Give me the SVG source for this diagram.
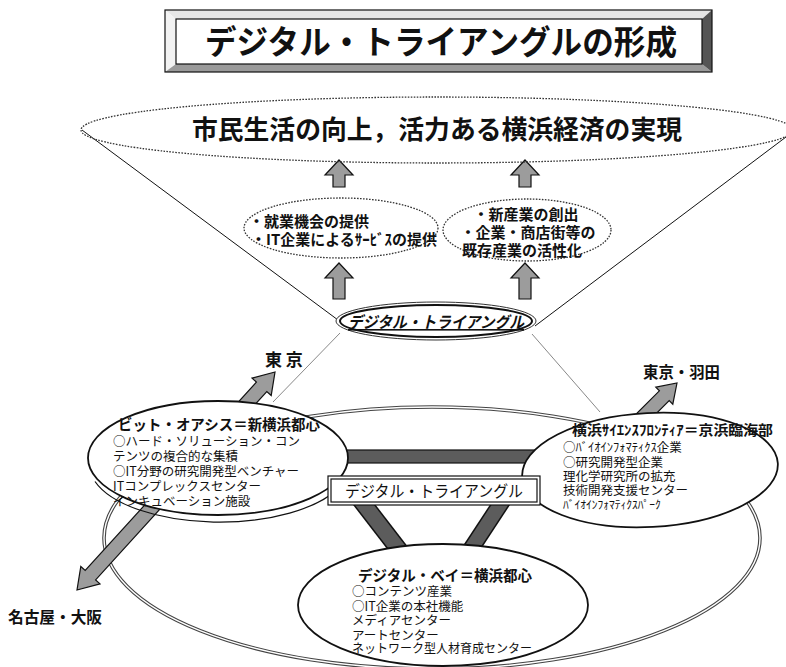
<svg xmlns="http://www.w3.org/2000/svg" width="786" height="667" viewBox="0 0 786 667">
<style>
.jp{font-family:"Noto Sans CJK JP","Noto Sans CJK SC",sans-serif;fill:#111}
.b{font-weight:bold}
.dot{fill:none;stroke:#333;stroke-width:1.3;stroke-dasharray:1.6 1.4}
.thin{fill:none;stroke:#111;stroke-width:1}
.arr{fill:#9c9c9c;stroke:#111;stroke-width:1.2;stroke-linejoin:miter}
.node{fill:#fff;stroke:#111;stroke-width:1.8}
.bar{fill:#5c5c5c;stroke:#111;stroke-width:1.2}
.t13{font-size:12.5px}
</style>
<rect width="786" height="667" fill="#fff"/>

<g id="title">
<polygon points="165,10 712,10 702,19 176,19" fill="#e6e6e6"/>
<polygon points="165,10 176,19 176,64 165,72" fill="#f2f2f2"/>
<polygon points="165,72 176,64 702,64 712,72" fill="#9a9a9a"/>
<polygon points="712,10 702,19 702,64 712,72" fill="#555"/>
<rect x="165" y="10" width="547" height="62" fill="none" stroke="#111" stroke-width="1.2"/>
<rect x="176" y="19" width="526" height="45" fill="#fff" stroke="#111" stroke-width="1.2"/>
<text class="jp b" x="441" y="54" font-size="33" text-anchor="middle" textLength="472" lengthAdjust="spacingAndGlyphs">デジタル・トライアングルの形成</text>
</g>

<g id="bg-ring">
<ellipse cx="432" cy="538" rx="328" ry="131" fill="none" stroke="#444" stroke-width="3.6"/>
<ellipse cx="432" cy="538" rx="328" ry="131" fill="none" stroke="#fff" stroke-width="1.4"/>
</g>

<g id="connectors">
<line class="thin" x1="82" y1="130" x2="338" y2="320"/>
<line class="thin" x1="786" y1="137" x2="535" y2="326"/>
<line x1="340" y1="333" x2="273" y2="402" stroke="#555" stroke-width="0.7"/>
<line x1="532" y1="334" x2="600" y2="412" stroke="#555" stroke-width="0.7"/>
<polygon class="arr" points="77,590 100,583.9 95.6,579.9 266.8,391.5 271.2,395.5 275,372 252,378.1 256.4,382.1 85.2,570.5 80.8,566.5"/>
<polygon class="arr" points="677,383 672.8,404.2 669.2,400.6 634.9,434.9 625.1,425.1 659.4,390.8 655.8,387.2"/>
<polygon class="arr" points="339,160 353,175 345,175 345,187 333,187 333,175 325,175"/>
<polygon class="arr" points="525,160 539,175 531,175 531,187 519,187 519,175 511,175"/>
<polygon class="arr" points="339,263 353,278 345,278 345,299 333,299 333,278 325,278"/>
<polygon class="arr" points="525,263 539,278 531,278 531,299 519,299 519,278 511,278"/>
<line x1="349" y1="485" x2="430" y2="590" stroke="#111" stroke-width="18"/>
<line x1="349" y1="485" x2="430" y2="590" stroke="#5c5c5c" stroke-width="15"/>
<line x1="513" y1="485" x2="444" y2="590" stroke="#111" stroke-width="17"/>
<line x1="513" y1="485" x2="444" y2="590" stroke="#5c5c5c" stroke-width="14"/>
<rect class="bar" x="335" y="450" width="210" height="13"/>
</g>

<g id="goal">
<ellipse class="dot" cx="437" cy="130" rx="356" ry="33"/>
<text class="jp b" x="437" y="139" font-size="26" text-anchor="middle" textLength="490" lengthAdjust="spacingAndGlyphs">市民生活の向上，活力ある横浜経済の実現</text>
</g>

<g id="effect-left">
<ellipse class="dot" cx="341" cy="228" rx="97" ry="30"/>
<text class="jp b" x="249" y="227" font-size="15">・就業機会の提供</text>
<text class="jp b" x="251" y="245" font-size="15" textLength="186" lengthAdjust="spacingAndGlyphs">・IT企業によるｻｰﾋﾞｽの提供</text>
</g>

<g id="effect-right">
<ellipse class="dot" cx="527" cy="230" rx="84" ry="31"/>
<text class="jp b" x="526" y="220" font-size="15" text-anchor="middle">・新産業の創出</text>
<text class="jp b" x="528" y="238" font-size="15" text-anchor="middle">・企業・商店街等の</text>
<text class="jp b" x="522" y="256" font-size="15" text-anchor="middle">既存産業の活性化</text>
</g>

<g id="dt-core">
<ellipse cx="436" cy="321" rx="100" ry="19" fill="#fff" stroke="#333" stroke-width="1"/>
<ellipse cx="436" cy="321" rx="96" ry="16" fill="none" stroke="#111" stroke-width="2"/>
<text class="jp b" x="436" y="328" font-size="16" font-style="italic" text-anchor="middle" text-decoration="underline" textLength="176" lengthAdjust="spacingAndGlyphs">デジタル・トライアングル</text>
</g>

<g id="bit-oasis">
<ellipse class="node" cx="218" cy="458" rx="130" ry="57"/>
<path d="M95,480 A130,57 0 0 0 340,485" fill="none" stroke="#111" stroke-width="1.2" transform="translate(0,1.5)"/>
<text class="jp b" x="118" y="430" font-size="14.5" textLength="202" lengthAdjust="spacingAndGlyphs">ビット・オアシス＝新横浜都心</text>
<text class="jp t13" x="113" y="446" textLength="187" lengthAdjust="spacingAndGlyphs">○ハード・ソリューション・コン</text>
<text class="jp t13" x="113" y="461">テンツの複合的な集積</text>
<text class="jp t13" x="113" y="476" textLength="186" lengthAdjust="spacingAndGlyphs">○IT分野の研究開発型ベンチャー</text>
<text class="jp t13" x="113" y="491">ITコンプレックスセンター</text>
<text class="jp t13" x="113" y="506">インキュベーション施設</text>
</g>

<g id="science-frontier">
<ellipse class="node" cx="650" cy="470" rx="128" ry="57" transform="rotate(-3 650 470)"/>
<text class="jp b" x="572" y="435" font-size="14" textLength="201" lengthAdjust="spacingAndGlyphs">横浜ｻｲｴﾝｽﾌﾛﾝﾃｨｱ＝京浜臨海部</text>
<text class="jp t13" x="563" y="452">○ﾊﾞｲｵｲﾝﾌｫﾏﾃｨｸｽ企業</text>
<text class="jp t13" x="563" y="467">○研究開発型企業</text>
<text class="jp t13" x="563" y="481">理化学研究所の拡充</text>
<text class="jp t13" x="563" y="495">技術開発支援センター</text>
<text class="jp" x="563" y="509" font-size="11.5">ﾊﾞｲｵｲﾝﾌｫﾏﾃｨｸｽﾊﾟｰｸ</text>
</g>

<g id="digital-bay">
<ellipse class="node" cx="443" cy="605" rx="145" ry="61"/>
<text class="jp b" x="358" y="581" font-size="15" textLength="174" lengthAdjust="spacingAndGlyphs">デジタル・ベイ＝横浜都心</text>
<text class="jp t13" x="352" y="596">○コンテンツ産業</text>
<text class="jp t13" x="352" y="610.5">○IT企業の本社機能</text>
<text class="jp t13" x="352" y="625">メディアセンター</text>
<text class="jp t13" x="352" y="639.5">アートセンター</text>
<text class="jp t13" x="352" y="653" textLength="180" lengthAdjust="spacingAndGlyphs">ネットワーク型人材育成センター</text>
</g>

<g id="dt-box">
<rect x="328" y="476" width="212" height="29" fill="#fff" stroke="#111" stroke-width="1.2"/>
<rect x="331" y="479" width="206" height="23" fill="none" stroke="#111" stroke-width="1.2"/>
<text class="jp" x="434" y="497" font-size="16" text-anchor="middle" textLength="178" lengthAdjust="spacingAndGlyphs">デジタル・トライアングル</text>
</g>

<g id="labels">
<text class="jp b" x="265" y="366" font-size="17">東 京</text>
<text class="jp b" x="643" y="378" font-size="16" textLength="77" lengthAdjust="spacingAndGlyphs">東京・羽田</text>
<text class="jp b" x="8" y="623" font-size="16" textLength="94" lengthAdjust="spacingAndGlyphs">名古屋・大阪</text>
</g>
</svg>
